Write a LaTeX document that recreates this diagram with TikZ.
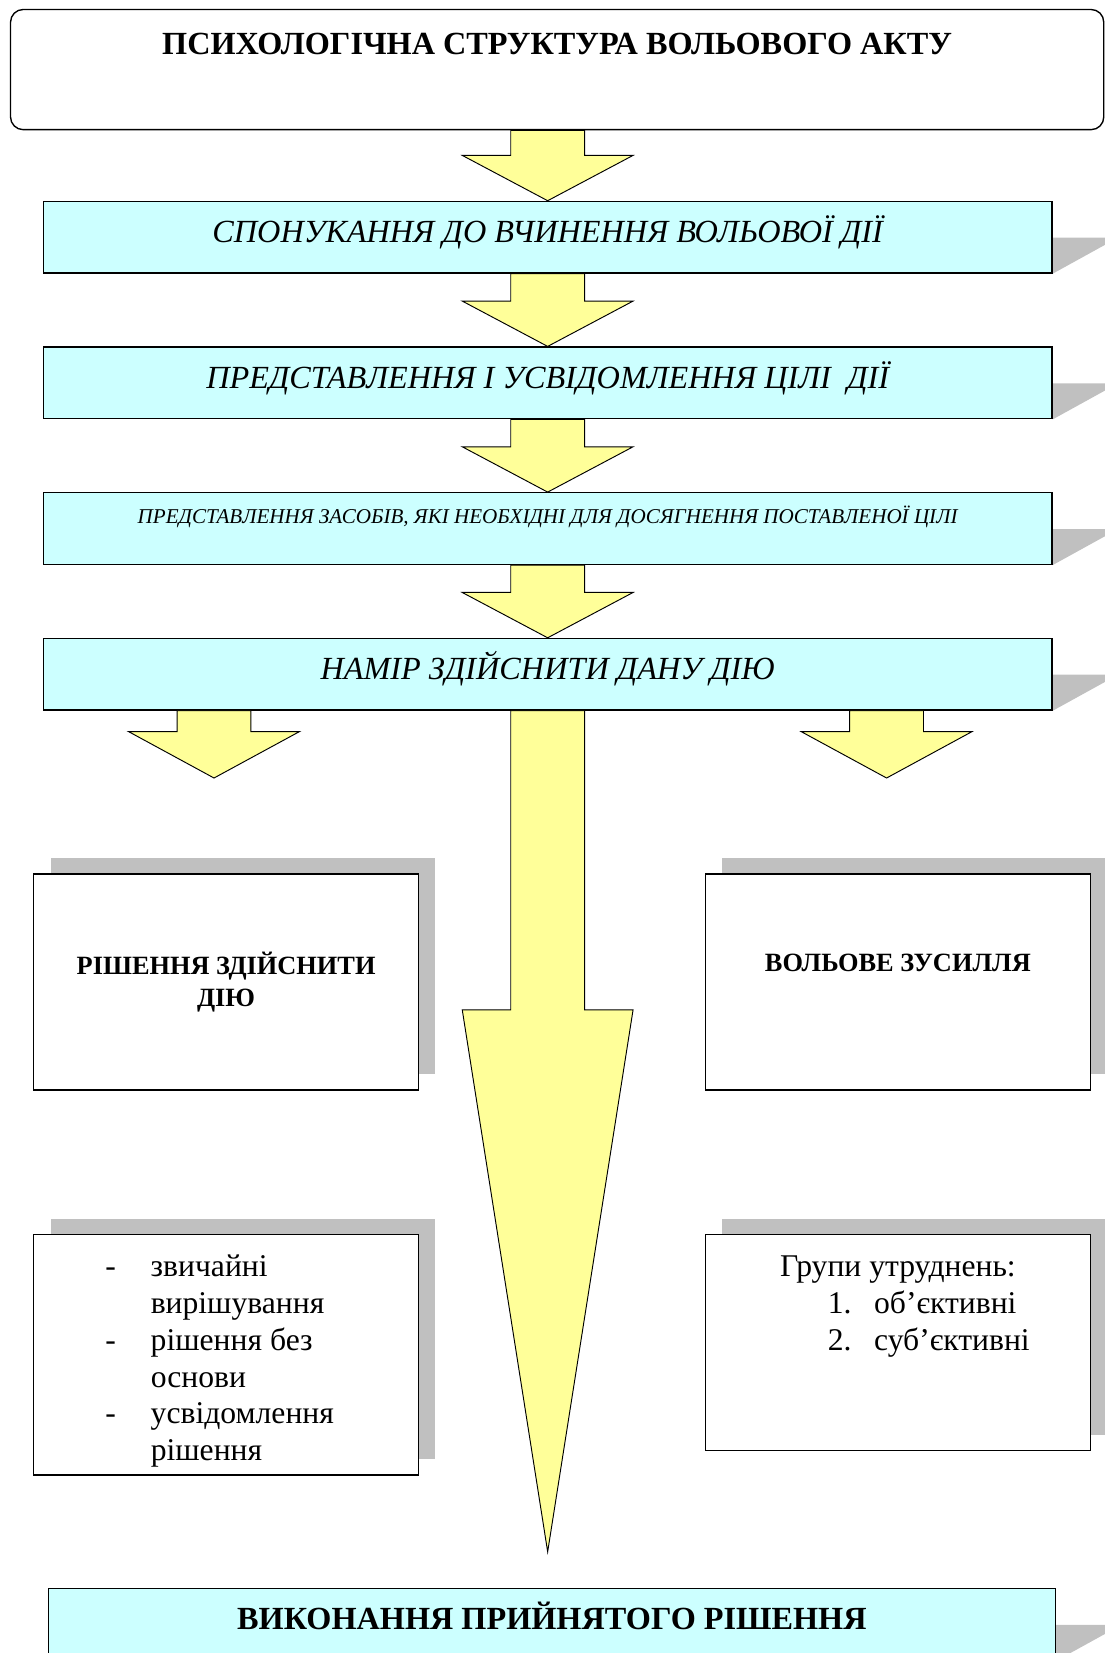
\documentclass[tikz,border=0pt]{standalone}
\usepackage{fontspec}
\setmainfont{Liberation Serif}
\usepackage{tikz}
\usetikzlibrary{positioning, calc, shadows, backgrounds}
\definecolor{BoxCyan}{RGB}{204,255,255}
\definecolor{ArrowYellow}{RGB}{255,255,153}
\definecolor{ShadowGray}{RGB}{192,192,192}

% wide yellow block arrow: start, tip, head length
\newcommand{\blockarrow}[3]{%
  \draw[yarrow] let \p1=(#1), \p2=(#2) in
    (\x1-35pt,\y1) -- (\x1-35pt,\y2+#3) -- (\x1-81pt,\y2+#3) -- (\x1,\y2)
    -- (\x1+81pt,\y2+#3) -- (\x1+35pt,\y2+#3) -- (\x1+35pt,\y1) -- cycle;}

\begin{document}
\begin{tikzpicture}[x=1pt, y=1pt,
  titlebox/.style={draw, line width=1.3pt, rounded corners=12pt,
                   minimum width=1037pt, inner sep=0pt,
                   text height=43pt, text depth=71pt,
                   font=\fontsize{30.6}{35}\selectfont\bfseries},
  stage/.style={draw, fill=BoxCyan, line width=1.2pt, minimum width=957pt,
                inner sep=0pt, text height=39pt, text depth=29pt,
                font=\fontsize{30.6}{35}\selectfont\itshape},
  shadowed/.style={drop shadow={shadow xshift=16pt, shadow yshift=15pt,
                                fill=ShadowGray, opacity=1}},
  wbox/.style={draw, fill=white, line width=1.2pt, minimum width=365pt,
               minimum height=205pt, inner sep=0pt, shadowed,
               font=\fontsize{25}{30}\selectfont\bfseries},
  lbox/.style={wbox, font=\fontsize{30}{35}\selectfont},
  yarrow/.style={draw, fill=ArrowYellow, line width=0.9pt},
]
\useasboundingbox (0,0) rectangle (1048,-1568);

\node[titlebox] (psy) at (528.5,-66) {ПСИХОЛОГІЧНА СТРУКТУРА ВОЛЬОВОГО АКТУ};

\node[stage] (spon) at (519.5,-225) {СПОНУКАННЯ ДО ВЧИНЕННЯ ВОЛЬОВОЇ ДІЇ};
\node[stage, below=69pt of spon] (pred) {ПРЕДСТАВЛЕННЯ І УСВІДОМЛЕННЯ ЦІЛІ\ \ ДІЇ};
\node[stage, below=69pt of pred, font=\fontsize{20}{24}\selectfont\itshape,
      text height=29.5pt, text depth=38.5pt] (zas)
  {ПРЕДСТАВЛЕННЯ ЗАСОБІВ, ЯКІ НЕОБХІДНІ ДЛЯ ДОСЯГНЕННЯ ПОСТАВЛЕНОЇ ЦІЛІ};
\node[stage, below=69pt of zas] (nam) {НАМІР ЗДІЙСНИТИ ДАНУ ДІЮ};

\node[wbox, align=center] (resh) at (214.5,-931.5) {РІШЕННЯ ЗДІЙСНИТИ\\ДІЮ};
\node[wbox, right=271pt of resh, text height=93pt, text depth=112pt] (vol)
  {ВОЛЬОВЕ ЗУСИЛЛЯ};

\node[lbox, below=136pt of resh] (zvych) {%
  \begin{minipage}[t][228pt][t]{365pt}
  \vspace*{15pt}\hspace*{68pt}%
  \begin{tabular}[t]{@{}p{43pt}@{}l@{}}
  - & звичайні\\
    & вирішування\\
  - & рішення без\\
    & основи\\
  - & усвідомлення\\
    & рішення
  \end{tabular}
  \end{minipage}};
\node[lbox, below=136pt of vol] (grup) {%
  \begin{minipage}[t][205pt][t]{365pt}
  \vspace*{15pt}\centering\strut Групи утруднень:\par
  \raggedright
  \hspace*{116pt}\makebox[44pt][l]{1.}об’єктивні\par
  \hspace*{116pt}\makebox[44pt][l]{2.}суб’єктивні
  \end{minipage}};

\node[stage, minimum width=955pt, font=\fontsize{30.6}{35}\selectfont\bfseries]
  (vyk) at (523.5,-1541) {ВИКОНАННЯ ПРИЙНЯТОГО РІШЕННЯ};

\coordinate (ltip) at (203,-738);
\coordinate (rtip) at (841,-738);
\coordinate (bigtip) at (519.5,-1472);

\blockarrow{psy.south -| spon.north}{spon.north}{43pt}
\blockarrow{spon.south}{pred.north}{43pt}
\blockarrow{pred.south}{zas.north}{43pt}
\blockarrow{zas.south}{nam.north}{43pt}
\blockarrow{nam.south -| ltip}{ltip}{44pt}
\blockarrow{nam.south -| rtip}{rtip}{44pt}
\blockarrow{nam.south}{bigtip}{514pt}

\begin{scope}[on background layer]
  \foreach \b in {spon,pred,zas,nam,vyk}
    \fill[ShadowGray] ($(\b.north east)+(0,-35pt)$) -- ++(62pt,0) -- (\b.south east) -- cycle;
\end{scope}
\end{tikzpicture}
\end{document}
